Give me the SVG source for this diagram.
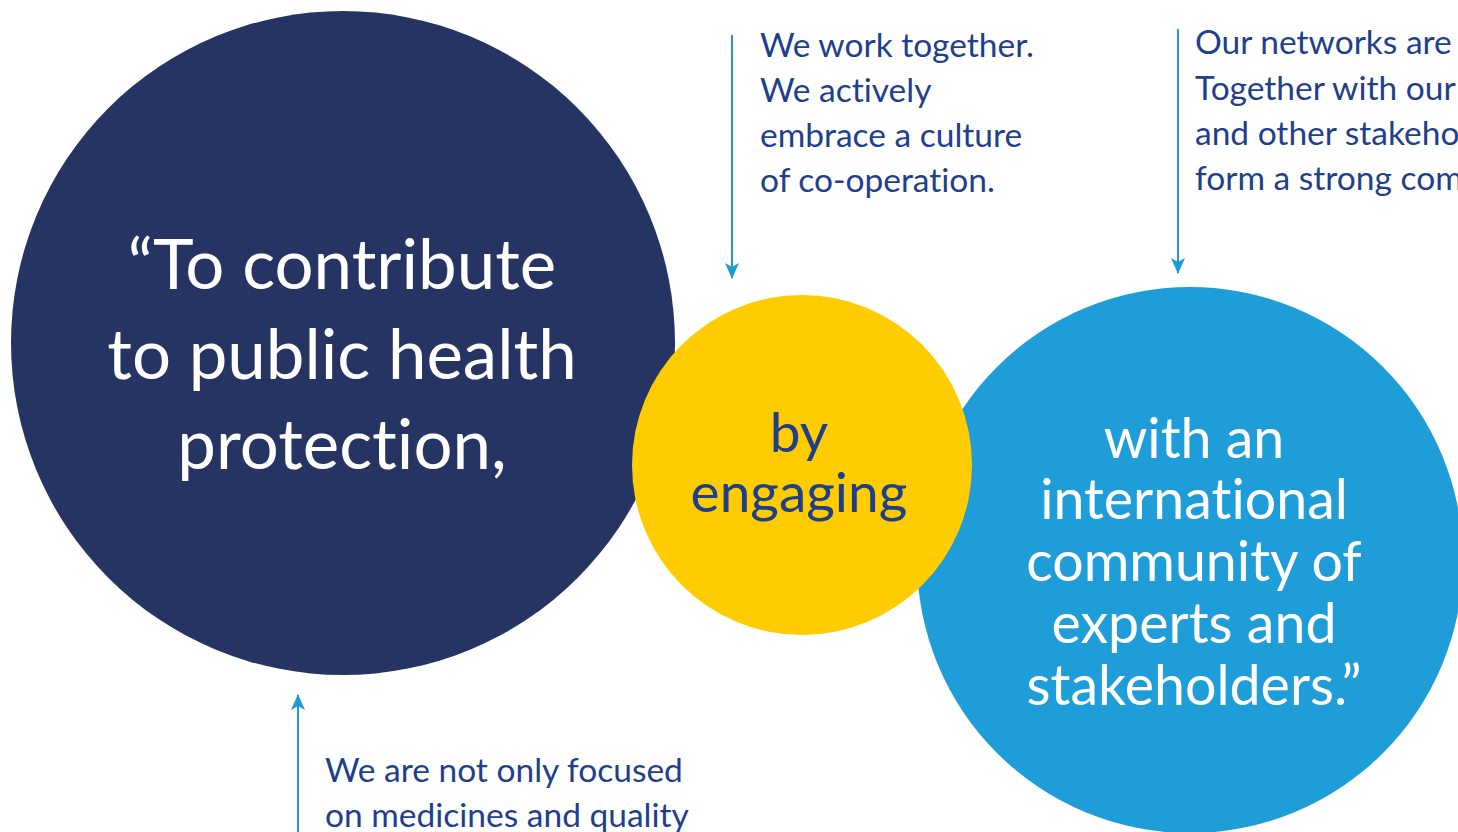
<svg xmlns="http://www.w3.org/2000/svg" width="1458" height="832" viewBox="0 0 1458 832">
<style>
text{font-variant-ligatures:none;font-feature-settings:"liga" 0,"dlig" 0}
.big{font-family:Lato,"Open Sans",sans-serif;text-anchor:middle}
.w{fill:#ffffff}
.note{font-family:Lato,"Open Sans",sans-serif;font-size:33.5px;fill:#1f3f8c}
.arrow{stroke:#1e9bd7;stroke-width:2;fill:none}
</style>
<defs>
<marker id="ah" viewBox="0 0 16 14" refX="15" refY="7" markerWidth="16" markerHeight="14" markerUnits="userSpaceOnUse" orient="auto">
<path d="M0,0 L16,7 L0,14 L4,7 Z" fill="#1e9bd7"/>
</marker>
</defs>
<rect width="1458" height="832" fill="#ffffff"/>
<g id="node-left">
<circle cx="343" cy="343" r="332" fill="#253463"/>
<text class="big w" font-size="69"><tspan x="342" y="289">“To contribute</tspan><tspan x="342" y="379">to public health</tspan><tspan x="342" y="469">protection,</tspan></text>
</g>
<g id="node-right">
<circle cx="1190" cy="560" r="273" fill="#1f9dd9"/>
<text class="big w" font-size="55.5"><tspan x="1194" y="458">with an</tspan><tspan x="1194" y="519">international</tspan><tspan x="1194" y="581">community of</tspan><tspan x="1194" y="643">experts and</tspan><tspan x="1194" y="705">stakeholders.”</tspan></text>
</g>
<g id="node-middle">
<circle cx="802" cy="465" r="170" fill="#ffcc00"/>
<text class="big" font-size="55" fill="#1f3f8c"><tspan x="799" y="452">by</tspan><tspan x="799" y="512">engaging</tspan></text>
</g>
<g id="note-cooperation">
<text class="note"><tspan x="760" y="57">We work together.</tspan><tspan x="760" y="102">We actively</tspan><tspan x="760" y="147">embrace a culture</tspan><tspan x="760" y="192">of co-operation.</tspan></text>
</g>
<g id="note-networks">
<text class="note"><tspan x="1195" y="54">Our networks are</tspan><tspan x="1195" y="100">Together with our</tspan><tspan x="1195" y="145">and other stakeholders</tspan><tspan x="1195" y="190">form a strong community</tspan></text>
</g>
<g id="note-focus">
<text class="note"><tspan x="325" y="782">We are not only focused</tspan><tspan x="325" y="827">on medicines and quality</tspan></text>
</g>
<g id="connectors">
<line class="arrow" x1="732" y1="35" x2="732" y2="278" marker-end="url(#ah)"/>
<line class="arrow" x1="1178" y1="29" x2="1178" y2="273" marker-end="url(#ah)"/>
<line class="arrow" x1="298" y1="832" x2="298" y2="695" marker-end="url(#ah)"/>
</g>
</svg>
